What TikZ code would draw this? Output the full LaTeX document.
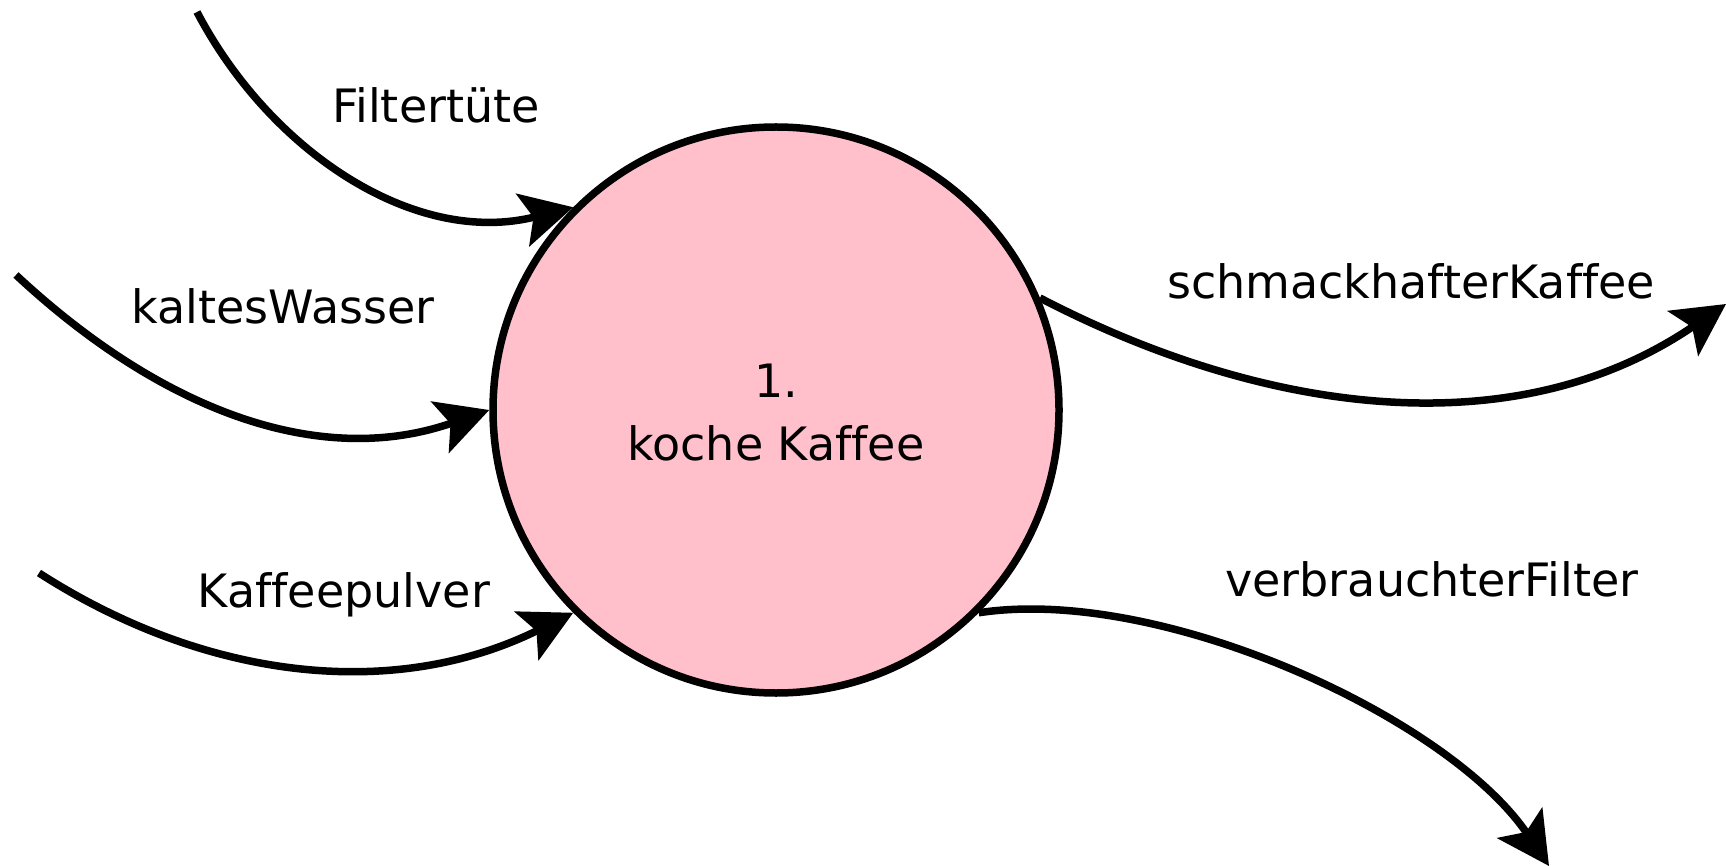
\documentclass[tikz,border=0pt]{standalone}
\usepackage{fontspec}
\setmainfont{DejaVu Sans}[Ligatures=NoCommon]
\usetikzlibrary{arrows.meta}
\definecolor{bubblepink}{HTML}{FFC0CB}

\begin{document}
\begin{tikzpicture}[x=1pt, y=-1pt,
    font=\fontsize{46pt}{63pt}\selectfont,
    proc/.style={circle, draw, line width=7.5pt, fill=bubblepink, minimum size=566pt, inner sep=0pt},
    flow/.style={line width=7.5pt, -{Stealth[length=52pt, width=54pt, inset=11pt]}},
    lbl/.style={anchor=base, inner sep=0pt}]
    \useasboundingbox (0,0) rectangle (1726,866);

    % Process bubble
    \node[proc] (koche) at (776,410) {};
    \node[lbl] (nr) at (776,397) {1.};
    \node[lbl] (name) at (776,460) {koche Kaffee};

    % Loose ends of the flows
    \coordinate (filterSrc) at (197,12);
    \coordinate (wasserSrc) at (16,275);
    \coordinate (pulverSrc) at (39,573);
    \coordinate (kaffeeDst) at (1726,304);
    \coordinate (restDst) at (1549,866);

    % Incoming flows
    \draw[flow] (filterSrc) .. controls (271,153) and (416,247) .. (koche.135);
    \draw[flow] (wasserSrc) .. controls (162,411) and (320,469) .. (koche.west);
    \draw[flow] (pulverSrc) .. controls (207,681) and (395,701) .. (koche.225);

    % Outgoing flows
    \draw[flow] (koche.23) .. controls (1265,415) and (1515,448) .. (kaffeeDst);
    \draw[flow] (koche.-45) .. controls (1160,585) and (1448,717) .. (restDst);

    % Flow labels
    \node[lbl] (filterLbl) at (436,123) {Filtertüte};
    \node[lbl] (wasserLbl) at (283,324) {kaltesWasser};
    \node[lbl] (pulverLbl) at (344,607) {Kaffeepulver};
    \node[lbl] (kaffeeLbl) at (1411,299) {schmackhafterKaffee};
    \node[lbl] (restLbl) at (1432,596) {verbrauchterFilter};
\end{tikzpicture}
\end{document}
